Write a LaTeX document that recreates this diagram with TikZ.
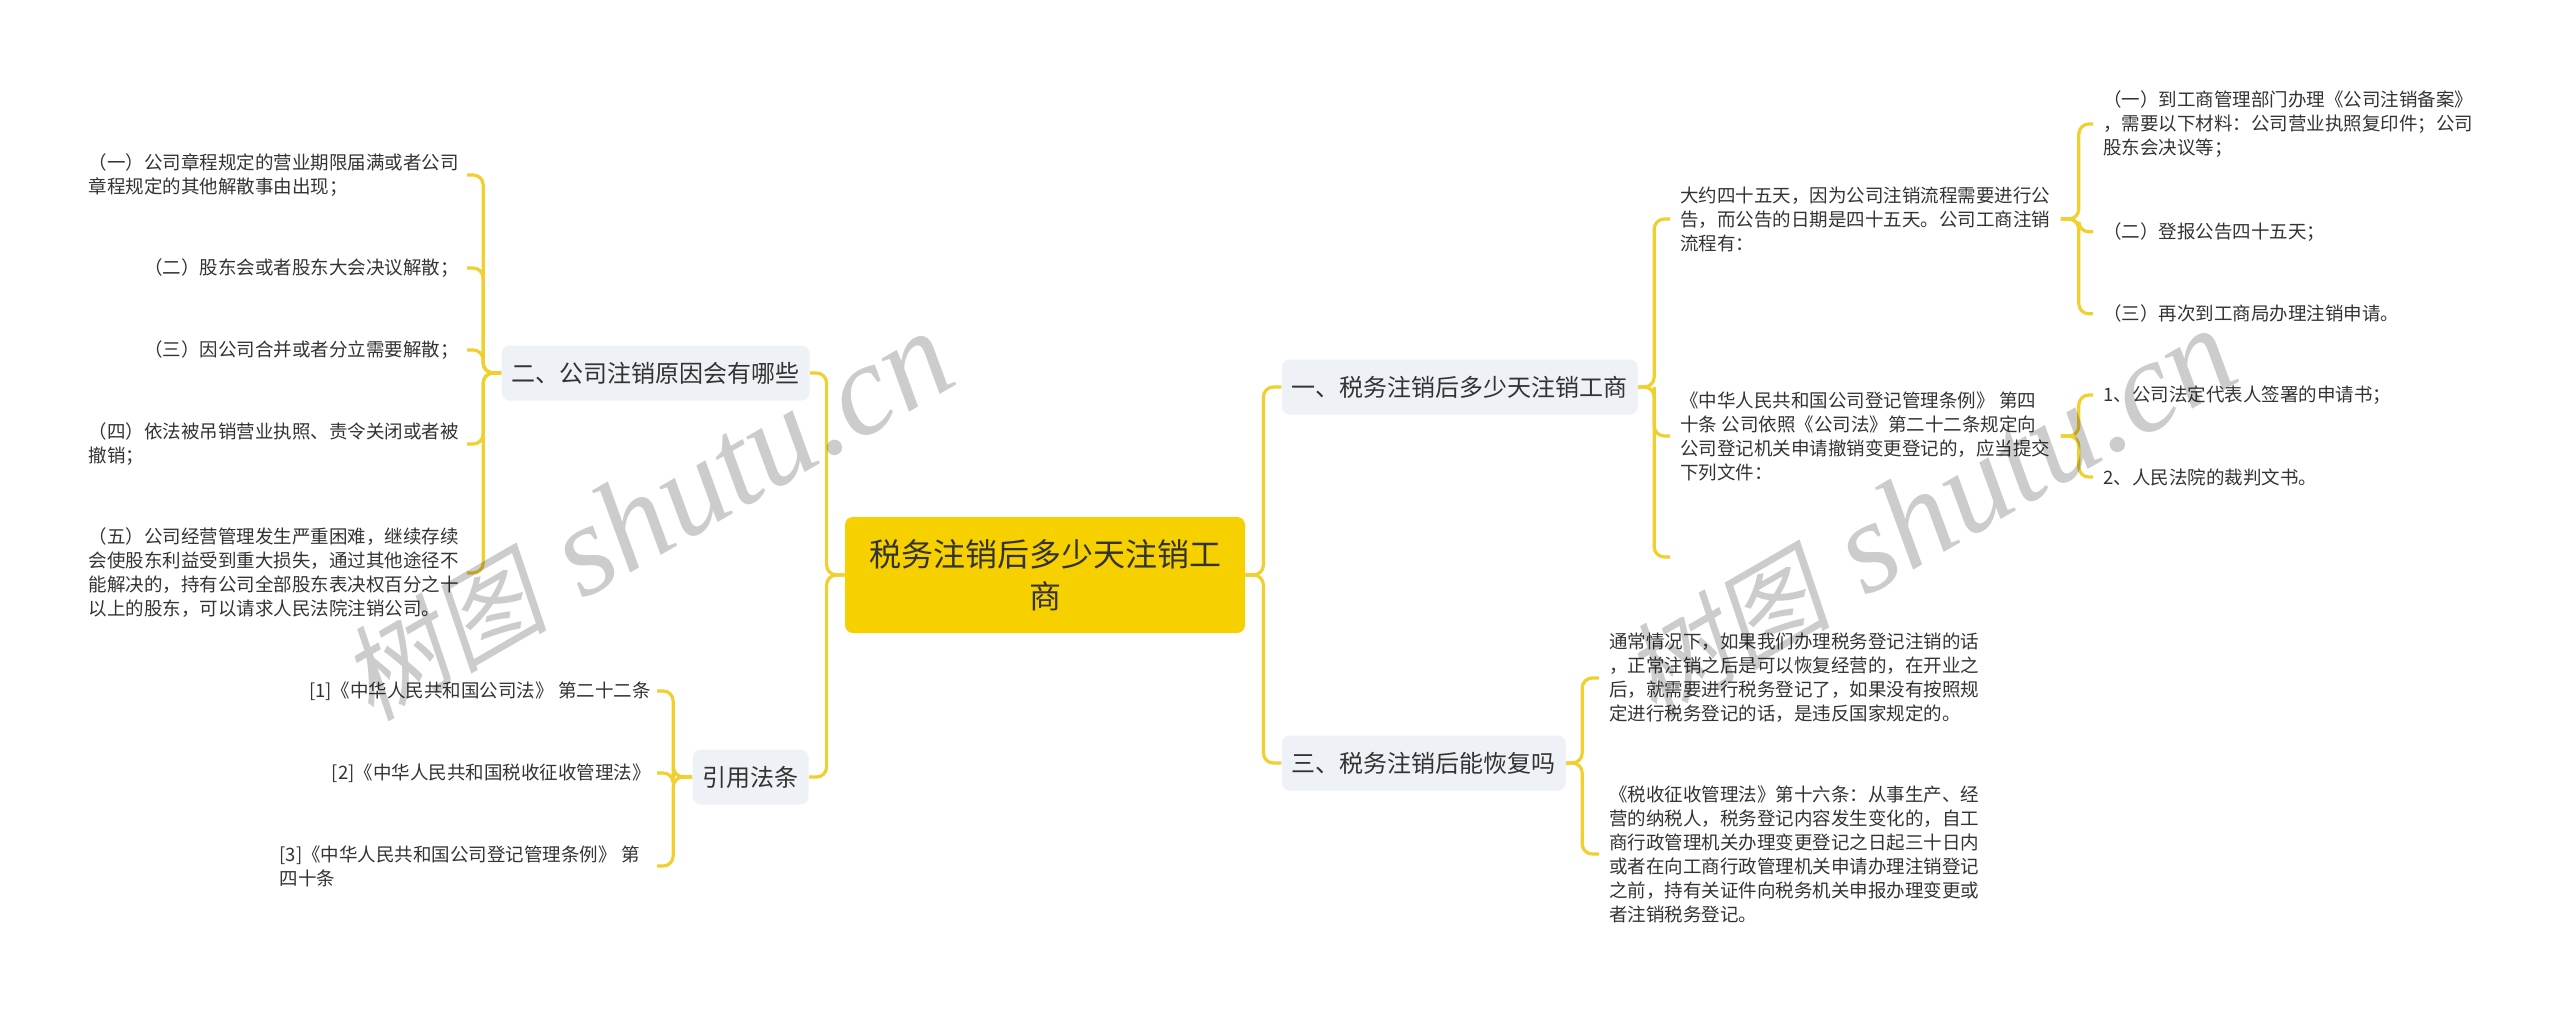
\documentclass[tikz,border=0pt]{standalone}
\usepackage{fontspec}
\setmainfont{Noto Sans CJK SC}
\newfontfamily\wmcjk[FakeSlant=0.2]{Noto Sans CJK SC}
\newfontfamily\wmlatin{Liberation Serif}
\usetikzlibrary{positioning, arrows.meta}
\definecolor{linkyellow}{HTML}{F0CF2E}
\definecolor{rootyellow}{HTML}{F7D000}
\definecolor{branchgrey}{HTML}{EEF1F5}
\definecolor{inkgrey}{HTML}{333333}
\newcommand{\marktext}{{\fontsize{52}{60}\selectfont\wmcjk 树图}\hspace{18pt}{\fontsize{65}{65}\selectfont\wmlatin\itshape shutu.cn}}

\begin{document}
\begin{tikzpicture}
        [
            x=0.5pt, y=-0.5pt,
            root/.style = {fill=rootyellow, rounded corners=4pt, align=center, text width=190pt, minimum width=200pt, minimum height=58pt, inner sep=0pt, text=inkgrey, font=\fontsize{16}{21}\selectfont},
            branch/.style = {fill=branchgrey, rounded corners=4pt, minimum height=27.5pt, inner xsep=5pt, inner ysep=0pt, text=inkgrey, font=\fontsize{12}{15}\selectfont},
            leafl/.style = {align=left, inner xsep=4pt, inner ysep=0pt, text=inkgrey, font=\fontsize{9.25}{12}\selectfont},
            leafr/.style = {align=left, inner xsep=5pt, inner ysep=0pt, text=inkgrey, font=\fontsize{9.25}{12}\selectfont},
            link/.style = {draw=linkyellow, line width=1.6pt, rounded corners=5pt},
            mark text/.style = {text=black, opacity=0.2, rotate=30, inner sep=0pt},
            node distance=9pt
        ]%
        \useasboundingbox (0,0) rectangle (2560,1011);
        \node[root] (root) at (1045,575) {税务注销后多少天注销工\\商};
        % right side
        \node[branch, above right = 0pt and 18pt of root.east, anchor=west, yshift=94pt] (one) {一、税务注销后多少天注销工商};
        \node[branch, below right = 0pt and 18pt of root.east, anchor=west, yshift=-94pt] (three) {三、税务注销后能恢复吗};
        \coordinate[right = 9pt of root.east] (rootr);
        \draw[link] (root.east) -- (rootr) |- (one.west);
        \draw[link] (root.east) -- (rootr) |- (three.west);
        \node[leafr, anchor=west] (days) at (1670,219) {大约四十五天，因为公司注销流程需要进行公\\告，而公告的日期是四十五天。公司工商注销\\流程有：};
        \node[leafr, anchor=west] (rule) at (1670,436) {《中华人民共和国公司登记管理条例》 第四\\十条 公司依照《公司法》第二十二条规定向\\公司登记机关申请撤销变更登记的，应当提交\\下列文件：};
        \coordinate (blank) at (1670,557);
        \coordinate[right = 8pt of one.east] (oner);
        \draw[link] (one.east) -- (oner) |- (days.west);
        \draw[link] (one.east) -- (oner) |- (rule.west);
        \draw[link] (oner) |- (blank);
        \node[leafr, anchor=west] (daysa) at (2093,124) {（一）到工商管理部门办理《公司注销备案》\\，需要以下材料：公司营业执照复印件；公司\\股东会决议等；};
        \node[leafr, below = 37pt of daysa.south west, anchor=west] (daysb) {（二）登报公告四十五天；};
        \node[leafr, below = 41pt of daysb.west, anchor=west] (daysc) {（三）再次到工商局办理注销申请。};
        \coordinate[right = 9pt of days.east] (daysr);
        \draw[link] (days.east) -- (daysr) |- (daysa.west);
        \draw[link] (days.east) -- (daysr) |- (daysb.west);
        \draw[link] (days.east) -- (daysr) |- (daysc.west);
        \node[leafr, anchor=west] (rulea) at (2093,395) {1、公司法定代表人签署的申请书；};
        \node[leafr, below = 41pt of rulea.west, anchor=west] (ruleb) {2、人民法院的裁判文书。};
        \coordinate[right = 9pt of rule.east] (ruler);
        \draw[link] (rule.east) -- (ruler) |- (rulea.west);
        \draw[link] (rule.east) -- (ruler) |- (ruleb.west);
        \node[leafr, anchor=west] (usual) at (1599,678) {通常情况下，如果我们办理税务登记注销的话\\，正常注销之后是可以恢复经营的，在开业之\\后，就需要进行税务登记了，如果没有按照规\\定进行税务登记的话，是违反国家规定的。};
        \node[leafr, anchor=west] (law) at (1599,854) {《税收征收管理法》第十六条：从事生产、经\\营的纳税人，税务登记内容发生变化的，自工\\商行政管理机关办理变更登记之日起三十日内\\或者在向工商行政管理机关申请办理注销登记\\之前，持有关证件向税务机关申报办理变更或\\者注销税务登记。};
        \coordinate[right = 8pt of three.east] (threer);
        \draw[link] (three.east) -- (threer) |- (usual.west);
        \draw[link] (three.east) -- (threer) |- (law.west);
        % left side
        \node[branch, anchor=east] (two) at (810,373) {二、公司注销原因会有哪些};
        \node[branch, anchor=east] (cite) at (809,777) {引用法条};
        \coordinate[left = 9pt of root.west] (rootl);
        \draw[link] (root.west) -- (rootl) |- (two.east);
        \draw[link] (root.west) -- (rootl) |- (cite.east);
        \node[leafl, anchor=east] (why1) at (467,175) {（一）公司章程规定的营业期限届满或者公司\\章程规定的其他解散事由出现；};
        \node[leafl, anchor=east] (why2) at (467,268) {（二）股东会或者股东大会决议解散；};
        \node[leafl, anchor=east] (why3) at (467,350) {（三）因公司合并或者分立需要解散；};
        \node[leafl, anchor=east] (why4) at (467,444) {（四）依法被吊销营业执照、责令关闭或者被\\撤销；};
        \node[leafl, anchor=east] (why5) at (467,573) {（五）公司经营管理发生严重困难，继续存续\\会使股东利益受到重大损失，通过其他途径不\\能解决的，持有公司全部股东表决权百分之十\\以上的股东，可以请求人民法院注销公司。};
        \coordinate[left = 9pt of two.west] (twol);
        \foreach \leaf in {why1, why2, why3, why4, why5}
            \draw[link] (two.west) -- (twol) |- (\leaf.east);
        \node[leafl, anchor=east, inner xsep=3pt] (cite1) at (657,691) {[1]《中华人民共和国公司法》 第二十二条};
        \node[leafl, anchor=east, inner xsep=3pt] (cite2) at (657,773) {[2]《中华人民共和国税收征收管理法》};
        \node[leafl, anchor=east, inner xsep=8.5pt] (cite3) at (657,866) {[3]《中华人民共和国公司登记管理条例》 第\\四十条};
        \coordinate[left = 9.5pt of cite.west] (citel);
        \draw[link] (cite.west) -- (citel) |- (cite1.east);
        \draw[link] (cite.west) -- (citel) |- (cite2.east);
        \draw[link] (cite.west) -- (citel) |- (cite3.east);
        % marks
        \node[mark text] (markl) at (646,517) {\marktext};
        \node[mark text] (markr) at (1929,514) {\marktext};
        \end{tikzpicture}
\end{document}
